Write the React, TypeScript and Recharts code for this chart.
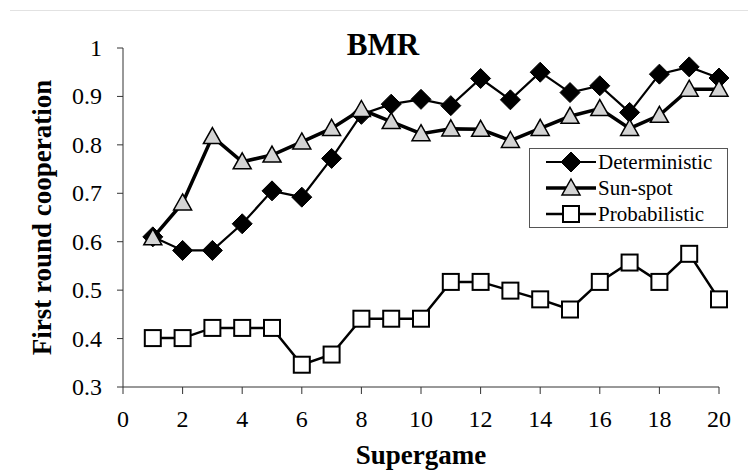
import React from 'react';
import { LineChart, Line, XAxis, YAxis } from 'recharts';

// Values
const supergames = [1, 2, 3, 4, 5, 6, 7, 8, 9, 10, 11, 12, 13, 14, 15, 16, 17, 18, 19, 20];
const deterministic = [0.61, 0.582, 0.582, 0.637, 0.705, 0.692, 0.772, 0.863, 0.884, 0.894, 0.881, 0.937, 0.893, 0.95, 0.908, 0.922, 0.867, 0.946, 0.961, 0.938];
const sunSpot = [0.608, 0.68, 0.817, 0.765, 0.779, 0.806, 0.834, 0.873, 0.848, 0.823, 0.833, 0.832, 0.809, 0.834, 0.859, 0.875, 0.834, 0.861, 0.915, 0.915];
const probabilistic = [0.401, 0.401, 0.422, 0.422, 0.422, 0.346, 0.367, 0.441, 0.441, 0.441, 0.517, 0.517, 0.499, 0.481, 0.46, 0.517, 0.557, 0.517, 0.575, 0.481];
const xTicks = [0, 2, 4, 6, 8, 10, 12, 14, 16, 18, 20];
const yTicks = [0.3, 0.4, 0.5, 0.6, 0.7, 0.8, 0.9, 1];

const data = supergames.map((game, i) => ({
  game,
  deterministic: deterministic[i],
  sunSpot: sunSpot[i],
  probabilistic: probabilistic[i],
}));

const FONT = '"Liberation Serif", "Times New Roman", serif';
const AXIS = '#333';
const TICK_SIZE = 24;

type Shape = 'diamond' | 'triangle' | 'square';

const Marker = ({ shape, cx, cy }: { shape: Shape; cx: number; cy: number }) => {
  if (shape === 'diamond') {
    const r = 10;
    return <path d={`M${cx},${cy - r}L${cx + r},${cy}L${cx},${cy + r}L${cx - r},${cy}Z`} fill="#000" stroke="#000" />;
  }
  if (shape === 'triangle') {
    return (
      <path
        d={`M${cx},${cy - 9}L${cx + 9},${cy + 7}L${cx - 9},${cy + 7}Z`}
        fill="#d4d4d4"
        stroke="#000"
        strokeWidth={1.5}
      />
    );
  }
  return <rect x={cx - 8} y={cy - 8} width={16} height={16} fill="#fff" stroke="#000" strokeWidth={2} />;
};

const series: { key: string; name: string; shape: Shape; width: number }[] = [
  { key: 'deterministic', name: 'Deterministic', shape: 'diamond', width: 2.2 },
  { key: 'sunSpot', name: 'Sun-spot', shape: 'triangle', width: 3.5 },
  { key: 'probabilistic', name: 'Probabilistic', shape: 'square', width: 2.5 },
];

const makeDot = (shape: Shape) => (props: any) => {
  const { cx, cy, index } = props;
  if (cx == null || cy == null) return <g key={`e-${index}`} />;
  return <Marker key={`${shape}-${index}`} shape={shape} cx={cx} cy={cy} />;
};

// tick renderers with the serif font set on the text itself
const XTick = (props: any) => {
  const { x, y, payload } = props;
  return (
    <text x={x} y={y + 29} textAnchor="middle" fontFamily={FONT} fontSize={TICK_SIZE} fill="#000">
      {payload.value}
    </text>
  );
};

const YTick = (props: any) => {
  const { x, y, payload } = props;
  const v = payload.value as number;
  return (
    <text x={x - 1} y={y + 8} textAnchor="end" fontFamily={FONT} fontSize={TICK_SIZE} fill="#000">
      {v === 1 ? '1' : v.toFixed(1)}
    </text>
  );
};

// legend box drawn on top of the chart, like the Excel one
const LegendBox = () => (
  <div
    style={{
      position: 'absolute',
      left: 529,
      top: 148,
      width: 199,
      height: 80,
      boxSizing: 'border-box',
      border: '1px solid #555',
      background: '#fff',
    }}
  >
    {series.map((s) => (
      <div key={s.key} style={{ display: 'flex', alignItems: 'center', height: 26 }}>
        <svg width={68} height={26} style={{ flex: 'none' }}>
          <line x1={16} y1={13} x2={66} y2={13} stroke="#000" strokeWidth={s.width} />
          <Marker shape={s.shape} cx={41} cy={13} />
        </svg>
        <span style={{ fontFamily: FONT, fontSize: 21, lineHeight: '26px', color: '#000' }}>{s.name}</span>
      </div>
    ))}
  </div>
);

const App: React.FC = () => {
  return (
    <div style={{ position: 'absolute', left: 0, top: 0, width: 748, height: 471, background: '#fff' }}>
      <div style={{ position: 'absolute', left: 10, right: 0, top: 10, borderTop: '1px solid #e2e2e2' }} />
      <LineChart
        width={748}
        height={471}
        data={data}
        margin={{ top: 48, right: 29, left: 63, bottom: 44 }}
      >
        <XAxis
          dataKey="game"
          type="number"
          domain={[0, 20]}
          ticks={xTicks}
          interval={0}
          stroke={AXIS}
          tickSize={7}
          tickMargin={4}
          height={40}
          tick={<XTick />}
          label={({ viewBox }: any) => (
            <text
              x={viewBox.x + viewBox.width / 2}
              y={viewBox.y + 77}
              textAnchor="middle"
              fontFamily={FONT}
              fontSize={27}
              fontWeight="bold"
              fill="#000"
            >
              Supergame
            </text>
          )}
        />
        <YAxis
          type="number"
          domain={[0.3, 1]}
          ticks={yTicks}
          interval={0}
          width={60}
          stroke={AXIS}
          tickSize={6}
          tickMargin={14}
          tick={<YTick />}
          label={({ viewBox }: any) => (
            <text
              x={42}
              y={viewBox.y + viewBox.height / 2}
              transform={`rotate(-90, 42, ${viewBox.y + viewBox.height / 2})`}
              textAnchor="middle"
              dominantBaseline="central"
              fontFamily={FONT}
              fontSize={27}
              fontWeight="bold"
              fill="#000"
            >
              First round cooperation
            </text>
          )}
        />
        {series.map((s) => (
          <Line
            key={s.key}
            type="linear"
            dataKey={s.key}
            name={s.name}
            stroke="#000"
            strokeWidth={s.width}
            dot={makeDot(s.shape)}
            activeDot={false}
            isAnimationActive={false}
          />
        ))}
      </LineChart>
      <LegendBox />
      <div
        style={{
          position: 'absolute',
          left: 283,
          top: 27,
          width: 200,
          textAlign: 'center',
          fontFamily: FONT,
          fontSize: 31,
          fontWeight: 'bold',
          lineHeight: '36px',
        }}
      >
        BMR
      </div>
    </div>
  );
};

export default App;
